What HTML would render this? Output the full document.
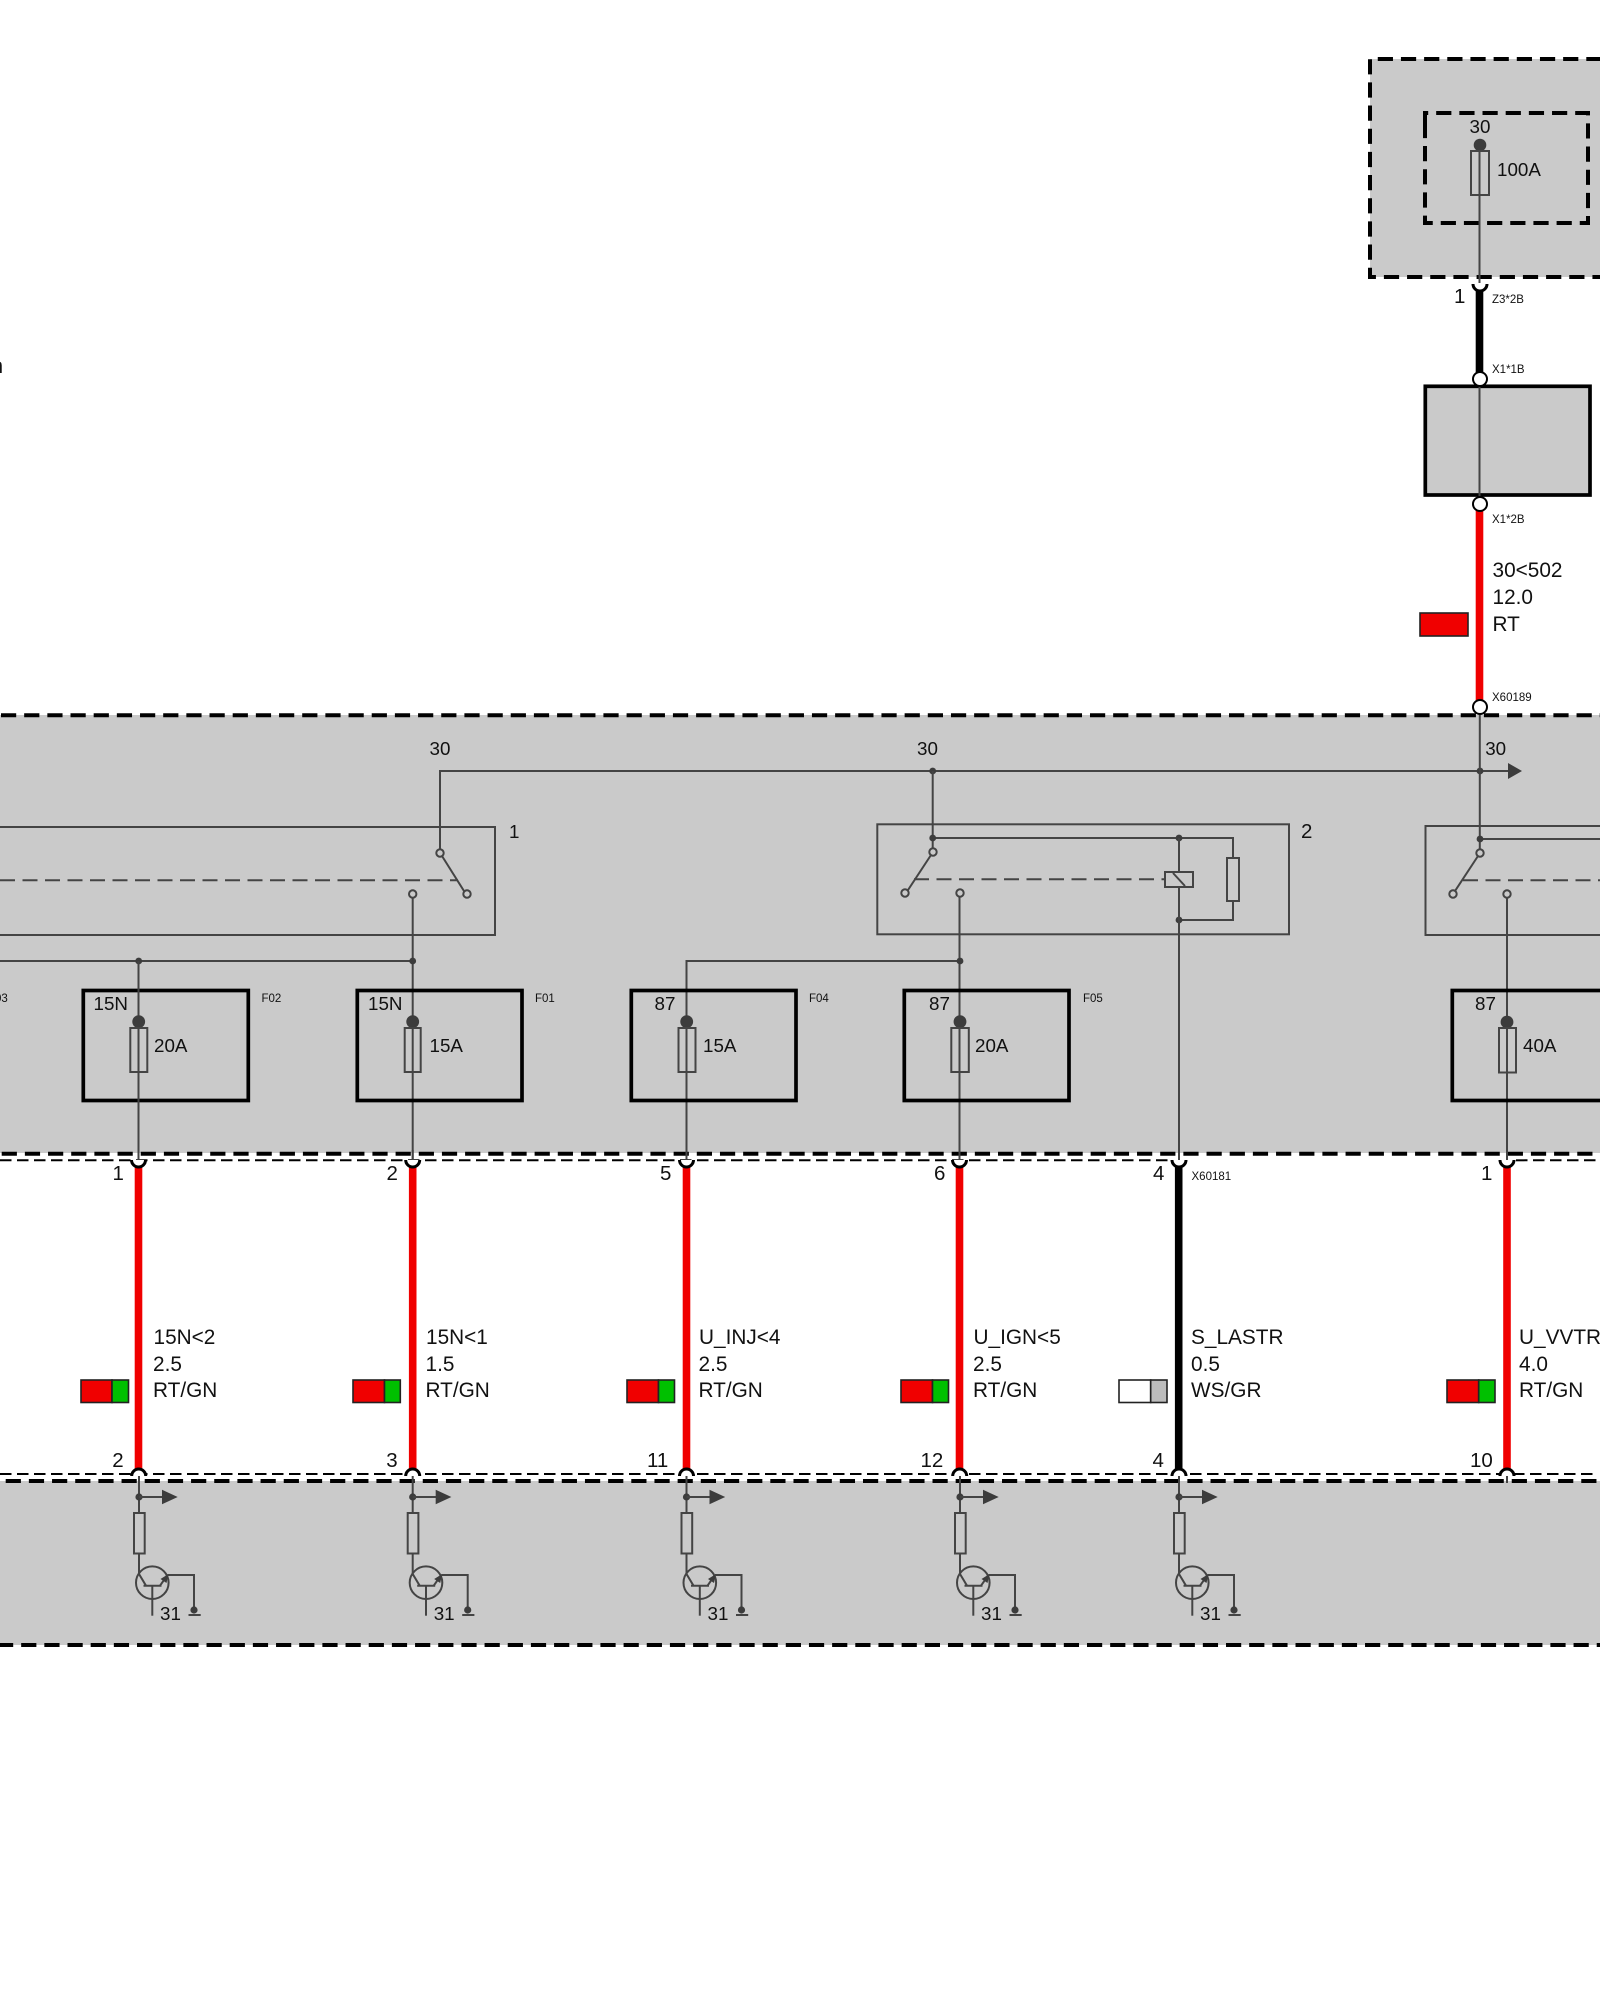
<!DOCTYPE html>
<html><head><meta charset="utf-8"><style>
html,body{margin:0;padding:0;background:#fff}
svg{display:block}
text{font-family:"Liberation Sans",sans-serif;font-size:18.8px;fill:#111}
.w{font-size:20.8px}
.p{font-size:20.5px}
.s{font-size:11.5px}
.t{stroke:#444;stroke-width:2;fill:none}
.f{stroke:#444;stroke-width:2;fill:none}
.o{stroke:#444;stroke-width:2;fill:#cacaca}
.d{fill:#3c3c3c}
.K{stroke:#000;stroke-width:4;fill:none;stroke-dasharray:15.2 7.97}
.k{stroke:#000;stroke-width:2;fill:none;stroke-dasharray:11.5 5.5}
.b{stroke:#000;stroke-width:3.7;fill:none}
.c{stroke:#000;stroke-width:3;fill:#fff}
.e{stroke:#000;stroke-width:2;fill:#fff}
.r{stroke:#f00000;stroke-width:7.6}
.n{stroke:#000;stroke-width:7.6}
.sw{stroke:#222;stroke-width:1.6}
</style></head><body>
<svg xmlns="http://www.w3.org/2000/svg" width="1600" height="2000" viewBox="0 0 1600 2000">
<defs>
<g id="q">
<line class="t" x1="139" y1="1476" x2="139" y2="1513"/>
<circle class="d" cx="139" cy="1497" r="3.6"/>
<line class="t" x1="139" y1="1497" x2="163" y2="1497"/>
<polygon class="d" points="162,1489.7 177.7,1497 162,1504.3"/>
<rect class="f" x="134" y="1513" width="10.7" height="40.5"/>
<polyline class="t" points="139,1553.5 139,1574 146,1585.7"/>
<circle class="f" cx="152.3" cy="1582.7" r="16.3"/>
<line class="t" x1="143.5" y1="1585.7" x2="161.5" y2="1585.7"/>
<line class="t" x1="152.3" y1="1585.7" x2="152.3" y2="1615.7"/>
<line class="t" x1="160" y1="1585.7" x2="167.5" y2="1575"/>
<polygon class="d" points="168.5,1574 166.5,1583 160.5,1579"/>
<polyline class="t" points="167.5,1575 194,1575 194,1610"/>
<circle class="d" cx="194" cy="1610" r="3.6"/>
<line class="t" x1="188.5" y1="1615" x2="200.7" y2="1615"/>
</g>
</defs>

<!-- panels -->
<rect x="1370" y="59" width="230" height="218" fill="#cacaca"/>
<rect x="1425" y="386" width="165" height="109" fill="#cacaca"/>
<rect x="0" y="715" width="1600" height="438" fill="#cacaca"/>
<rect x="0" y="1481" width="1600" height="164" fill="#cacaca"/>

<!-- top dashed -->
<path class="K" d="M1601.5,59 H1370 V277 H1601.5"/>
<path class="K" d="M1425,125 V113 H1588 V223 H1425 V125"/>
<rect class="b" x="1425.3" y="386.3" width="164.7" height="108.7"/>

<!-- long dashed -->
<line class="K" x1="1" y1="715.3" x2="1600" y2="715.3"/>
<line class="K" x1="1.7" y1="1153.7" x2="1597" y2="1153.7"/>
<line class="k" x1="0" y1="1160.3" x2="1170" y2="1160.3"/>
<line class="k" x1="1516" y1="1160.3" x2="1598" y2="1160.3"/>
<line class="k" x1="0" y1="1474" x2="1598" y2="1474"/>
<line class="K" x1="5.7" y1="1481" x2="1598" y2="1481"/>
<line class="K" x1="-2" y1="1645" x2="1600" y2="1645"/>

<!-- top wire -->
<line class="t" x1="1479.5" y1="145" x2="1479.5" y2="283"/>
<circle class="d" cx="1480" cy="145" r="6.3"/>
<rect class="f" x="1471" y="151" width="18" height="44"/>
<line class="n" x1="1479.5" y1="290" x2="1479.5" y2="373"/>
<path class="c" d="M1473,284 A7,7 0 0 0 1487,284"/>
<line class="t" x1="1479.5" y1="379" x2="1479.5" y2="504"/>
<circle class="e" cx="1480" cy="379" r="7"/>
<line class="r" x1="1479.5" y1="510" x2="1479.5" y2="702"/>
<circle class="e" cx="1480" cy="504" r="7"/>
<circle class="e" cx="1480" cy="707" r="7"/>
<rect class="sw" x="1420" y="613" width="48" height="23" fill="#f00000"/>

<!-- bus -->
<polyline class="t" points="440,853 440,771 1510,771"/>
<polygon class="d" points="1508,763 1522,771 1508,779"/>
<circle class="d" cx="1480" cy="771" r="3.4"/>
<circle class="d" cx="932.7" cy="771" r="3.4"/>

<!-- relay 1 -->
<polyline class="t" points="0,827 495,827 495,935 0,935"/>
<line class="t" stroke-dasharray="15 7.5" x1="0" y1="880.3" x2="458" y2="880.3"/>
<line class="t" x1="442" y1="856" x2="464" y2="891"/>
<circle class="o" cx="440" cy="853" r="3.7"/>
<circle class="o" cx="467" cy="894" r="3.7"/>
<circle class="o" cx="412.7" cy="894" r="3.7"/>
<line class="t" x1="412.7" y1="898" x2="412.7" y2="1160"/>
<line class="t" x1="0" y1="961" x2="412.7" y2="961"/>
<circle class="d" cx="138.7" cy="961" r="3.4"/>
<circle class="d" cx="412.7" cy="961" r="3.4"/>

<!-- relay 2 -->
<rect class="t" x="877.3" y="824.3" width="411.7" height="110"/>
<line class="t" x1="932.7" y1="771" x2="932.7" y2="848"/>
<polyline class="t" points="932.7,838 1233,838 1233,858"/>
<circle class="d" cx="932.7" cy="838" r="3.4"/>
<circle class="d" cx="1179" cy="838" r="3.4"/>
<polyline class="t" points="1233,901 1233,920 1179,920"/>
<rect class="f" x="1227" y="858" width="12" height="43"/>
<circle class="d" cx="1179" cy="920" r="3.4"/>
<line class="t" stroke-dasharray="15 7.5" x1="914" y1="879.3" x2="1165" y2="879.3"/>
<line class="t" x1="931" y1="855" x2="908" y2="890"/>
<circle class="o" cx="933" cy="852" r="3.7"/>
<circle class="o" cx="905" cy="893" r="3.7"/>
<circle class="o" cx="960" cy="893" r="3.7"/>
<line class="t" x1="1179" y1="838" x2="1179" y2="1158"/>
<rect class="o" x="1165" y="872" width="28" height="15"/>
<line class="t" x1="1173" y1="873" x2="1185" y2="886"/>
<line class="t" x1="959.5" y1="897" x2="959.5" y2="1160"/>
<polyline class="t" points="686.5,1160 686.5,961 959.5,961"/>
<circle class="d" cx="960" cy="961" r="3.4"/>

<!-- relay 3 -->
<polyline class="t" points="1600,826 1425.5,826 1425.5,935 1600,935"/>
<line class="t" x1="1479.8" y1="715" x2="1479.8" y2="849"/>
<line class="t" x1="1480" y1="839" x2="1600" y2="839"/>
<circle class="d" cx="1480" cy="839" r="3.4"/>
<line class="t" stroke-dasharray="15 7.5" x1="1463" y1="880.3" x2="1600" y2="880.3"/>
<line class="t" x1="1478" y1="856" x2="1455" y2="891"/>
<circle class="o" cx="1480" cy="853" r="3.7"/>
<circle class="o" cx="1453" cy="894" r="3.7"/>
<circle class="o" cx="1507" cy="894" r="3.7"/>
<line class="t" x1="1507" y1="898" x2="1507" y2="1160"/>

<!-- fuses -->
<rect class="b" x="83.3" y="990.5" width="165" height="110"/>
<rect class="b" x="357.3" y="990.5" width="164.7" height="110"/>
<rect class="b" x="631.3" y="990.5" width="164.7" height="110"/>
<rect class="b" x="904.3" y="990.5" width="164.7" height="110"/>
<rect class="b" x="1452.3" y="990.5" width="170" height="110"/>

<line class="t" x1="138.5" y1="961" x2="138.5" y2="1160"/>
<circle class="d" cx="138.7" cy="1021.7" r="6.4"/><rect class="f" x="130.3" y="1028" width="17" height="44"/>
<circle class="d" cx="412.7" cy="1021.7" r="6.4"/><rect class="f" x="404.7" y="1028" width="16" height="44"/>
<circle class="d" cx="686.7" cy="1021.7" r="6.4"/><rect class="f" x="678.5" y="1028" width="17" height="44"/>
<circle class="d" cx="960" cy="1021.7" r="6.4"/><rect class="f" x="951.3" y="1028" width="17.5" height="44"/>
<circle class="d" cx="1507" cy="1022" r="6.4"/><rect class="f" x="1499" y="1028" width="17" height="44.5"/>

<!-- wires between panels -->
<line class="r" x1="138.5" y1="1165" x2="138.5" y2="1470"/>
<line class="r" x1="412.7" y1="1165" x2="412.7" y2="1470"/>
<line class="r" x1="686.5" y1="1165" x2="686.5" y2="1470"/>
<line class="r" x1="959.5" y1="1165" x2="959.5" y2="1470"/>
<line class="n" x1="1178.7" y1="1165" x2="1178.7" y2="1470"/>
<line class="r" x1="1507" y1="1165" x2="1507" y2="1470"/>

<!-- cups upper -->
<path class="c" d="M131.5,1160 A7,7 0 0 0 145.5,1160"/>
<path class="c" d="M405.7,1160 A7,7 0 0 0 419.7,1160"/>
<path class="c" d="M679.5,1160 A7,7 0 0 0 693.5,1160"/>
<path class="c" d="M952.5,1160 A7,7 0 0 0 966.5,1160"/>
<path class="c" d="M1172,1160 A7,7 0 0 0 1186,1160"/>
<path class="c" d="M1500,1160 A7,7 0 0 0 1514,1160"/>
<line class="t" x1="138.5" y1="1150" x2="138.5" y2="1160"/>
<line class="t" x1="412.7" y1="1150" x2="412.7" y2="1160"/>
<line class="t" x1="686.5" y1="1150" x2="686.5" y2="1160"/>
<line class="t" x1="959.5" y1="1150" x2="959.5" y2="1160"/>
<line class="t" x1="1179" y1="1150" x2="1179" y2="1160"/>
<line class="t" x1="1507" y1="1150" x2="1507" y2="1160"/>

<!-- cups lower -->
<path class="c" d="M131.7,1476 A7,7 0 0 1 145.7,1476"/>
<path class="c" d="M405.7,1476 A7,7 0 0 1 419.7,1476"/>
<path class="c" d="M679.5,1476 A7,7 0 0 1 693.5,1476"/>
<path class="c" d="M952.7,1476 A7,7 0 0 1 966.7,1476"/>
<path class="c" d="M1172,1476 A7,7 0 0 1 1186,1476"/>
<path class="c" d="M1500,1476 A7,7 0 0 1 1514,1476"/>
<line class="t" x1="1507" y1="1476" x2="1507" y2="1483"/>

<use href="#q"/>
<use href="#q" x="273.7"/>
<use href="#q" x="547.5"/>
<use href="#q" x="821"/>
<use href="#q" x="1040"/>

<!-- swatches -->
<g class="sw">
<rect x="81" y="1380" width="31" height="22.5" fill="#f00000"/><rect x="112" y="1380" width="16.5" height="22.5" fill="#00c000"/>
<rect x="353" y="1380" width="31.5" height="22.5" fill="#f00000"/><rect x="384.5" y="1380" width="15.8" height="22.5" fill="#00c000"/>
<rect x="627" y="1380" width="31.5" height="22.5" fill="#f00000"/><rect x="658.5" y="1380" width="16" height="22.5" fill="#00c000"/>
<rect x="901" y="1380" width="31.5" height="22.5" fill="#f00000"/><rect x="932.5" y="1380" width="16" height="22.5" fill="#00c000"/>
<rect x="1119" y="1380" width="31.7" height="22.5" fill="#fff"/><rect x="1150.7" y="1380" width="16.3" height="22.5" fill="#bcbcbc"/>
<rect x="1447" y="1380" width="31.7" height="22.5" fill="#f00000"/><rect x="1478.7" y="1380" width="16.3" height="22.5" fill="#00c000"/>
</g>

<!-- text -->
<text class="w" x="-8.5" y="373">n</text>
<text x="1469.5" y="133">30</text>
<text x="1497" y="176">100A</text>
<text class="p" x="1454" y="303">1</text>
<text class="s" x="1492" y="303">Z3*2B</text>
<text class="s" x="1492" y="373">X1*1B</text>
<text class="s" x="1492" y="523">X1*2B</text>
<text class="w" x="1492.5" y="577">30&lt;502</text>
<text class="w" x="1492.5" y="604">12.0</text>
<text class="w" x="1492.5" y="631">RT</text>
<text class="s" x="1492" y="701">X60189</text>

<text x="429.5" y="755">30</text>
<text x="917" y="755">30</text>
<text x="1485.2" y="755">30</text>
<text x="509" y="838">1</text>
<text class="p" x="1301" y="838">2</text>

<text x="93.5" y="1010">15N</text>
<text x="368" y="1010">15N</text>
<text x="654.5" y="1010">87</text>
<text x="929" y="1010">87</text>
<text x="1475" y="1010">87</text>
<text x="154" y="1052">20A</text>
<text x="429.5" y="1052">15A</text>
<text x="703" y="1052">15A</text>
<text x="975" y="1052">20A</text>
<text x="1523" y="1052">40A</text>
<text class="s" x="-12" y="1002">F03</text>
<text class="s" x="261.5" y="1002">F02</text>
<text class="s" x="535" y="1002">F01</text>
<text class="s" x="809" y="1002">F04</text>
<text class="s" x="1083" y="1002">F05</text>
<text class="s" x="1191.5" y="1180">X60181</text>

<text class="p" x="112.5" y="1180">1</text>
<text class="p" x="386.5" y="1180">2</text>
<text class="p" x="660" y="1180">5</text>
<text class="p" x="934" y="1180">6</text>
<text class="p" x="1153" y="1180">4</text>
<text class="p" x="1481" y="1180">1</text>

<text class="w" x="153.5" y="1344">15N&lt;2</text><text class="w" x="153" y="1371">2.5</text><text class="w" x="153" y="1397">RT/GN</text>
<text class="w" x="426" y="1344">15N&lt;1</text><text class="w" x="425.5" y="1371">1.5</text><text class="w" x="425.5" y="1397">RT/GN</text>
<text class="w" x="699" y="1344">U_INJ&lt;4</text><text class="w" x="698.5" y="1371">2.5</text><text class="w" x="698.5" y="1397">RT/GN</text>
<text class="w" x="973.5" y="1344">U_IGN&lt;5</text><text class="w" x="973" y="1371">2.5</text><text class="w" x="973" y="1397">RT/GN</text>
<text class="w" x="1191" y="1344">S_LASTR</text><text class="w" x="1191" y="1371">0.5</text><text class="w" x="1191" y="1397">WS/GR</text>
<text class="w" x="1519" y="1344">U_VVTR</text><text class="w" x="1519" y="1371">4.0</text><text class="w" x="1519" y="1397">RT/GN</text>

<text class="p" x="112.2" y="1467">2</text>
<text class="p" x="386.2" y="1467">3</text>
<text class="p" x="647" y="1467">11</text>
<text class="p" x="920.5" y="1467">12</text>
<text class="p" x="1152.5" y="1467">4</text>
<text class="p" x="1470" y="1467">10</text>

<text x="160" y="1620">31</text>
<text x="433.7" y="1620">31</text>
<text x="707.5" y="1620">31</text>
<text x="981" y="1620">31</text>
<text x="1200" y="1620">31</text>
</svg>
</body></html>
